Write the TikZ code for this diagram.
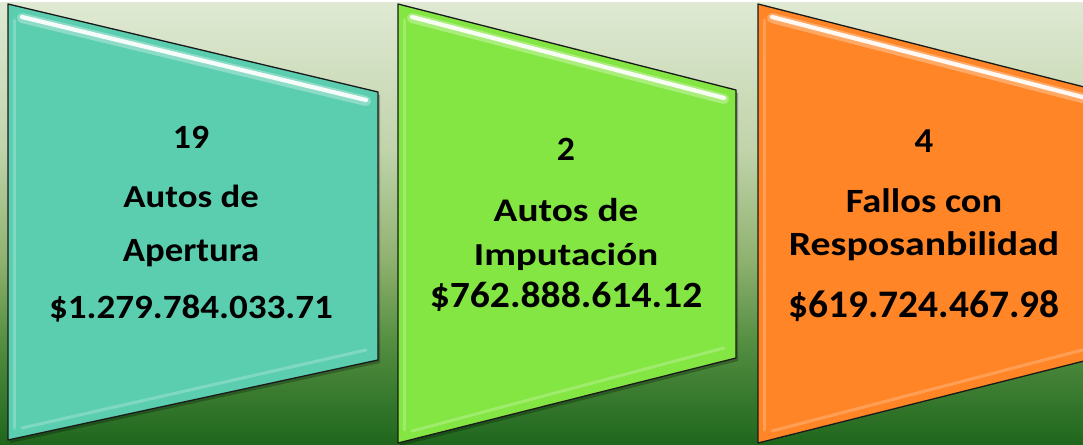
\documentclass[tikz,border=0pt]{standalone}
\usepackage{fontspec}
\setmainfont{Carlito}
\usetikzlibrary{calc}
\definecolor{bgA}{HTML}{DFE9D3}
\definecolor{bgB}{HTML}{C0D3AA}
\definecolor{bgC}{HTML}{8FB16F}
\definecolor{bgD}{HTML}{558F42}
\definecolor{bgE}{HTML}{1F671D}
\definecolor{teal}{HTML}{5CCEB0}
\definecolor{lime}{HTML}{84E642}
\definecolor{orng}{HTML}{FF8526}
\definecolor{edge}{HTML}{1A1A1A}
\newcommand{\txtline}[3]{\scalebox{#2}[1]{\fontsize{#1}{#1}\selectfont\bfseries #3}}
\tikzset{
  panel/.style={draw=edge, line width=1.3pt, line join=round},
  gloss/.style={white, line width=4.2pt, line cap=round, opacity=0.92},
  glow/.style={white, line width=10pt, line cap=round, opacity=0.3},
  lowgloss/.style={white, line width=3pt, line cap=round, opacity=0.22},
  lbl/.style={anchor=base, inner sep=0pt, text=black}
}
\begin{document}
\begin{tikzpicture}[x=1pt,y=-1pt]
\useasboundingbox (0,0) rectangle (1083,444);
\clip (0,0) rectangle (1083,444);
% background
\fill[white] (0,0) rectangle (1083,444);
\shade[top color=bgA, bottom color=bgB] (0,3) rectangle (1083,150.5);
\shade[top color=bgB, bottom color=bgC] (0,150) rectangle (1083,260.5);
\shade[top color=bgC, bottom color=bgD] (0,260) rectangle (1083,340.5);
\shade[top color=bgD, bottom color=bgE] (0,340) rectangle (1083,444);
% panel 1
\coordinate (p1a) at (8,4);
\coordinate (p1b) at (378,92);
\coordinate (p1c) at (378,360);
\coordinate (p1d) at (8,440);
\fill[black, opacity=0.25] ($(p1a)+(2,3)$) -- ($(p1b)+(2,3)$) -- ($(p1c)+(2,3)$) -- ($(p1d)+(2,3)$) -- cycle;
\fill[teal] (p1a) -- (p1b) -- (p1c) -- (p1d) -- cycle;
\draw[glow] (22,18) -- (366,101);
\draw[gloss] (22,17) -- (366,100);
\draw[lowgloss] (22,428) -- (366,350);
\draw[lowgloss] (14,20) -- (14,428);
\draw[panel] (p1a) -- (p1b) -- (p1c) -- (p1d) -- cycle;
% panel 2
\coordinate (p2a) at (398,4);
\coordinate (p2b) at (736,90);
\coordinate (p2c) at (736,358);
\coordinate (p2d) at (398,443);
\fill[black, opacity=0.25] ($(p2a)+(2,3)$) -- ($(p2b)+(2,3)$) -- ($(p2c)+(2,3)$) -- ($(p2d)+(2,3)$) -- cycle;
\fill[lime] (p2a) -- (p2b) -- (p2c) -- (p2d) -- cycle;
\draw[glow] (412,18) -- (724,99);
\draw[gloss] (412,17) -- (724,98);
\draw[lowgloss] (412,431) -- (724,348);
\draw[lowgloss] (404,20) -- (404,430);
\draw[panel] (p2a) -- (p2b) -- (p2c) -- (p2d) -- cycle;
% panel 3
\coordinate (p3a) at (758,4);
\coordinate (p3b) at (1096,90);
\coordinate (p3c) at (1096,358);
\coordinate (p3d) at (758,443);
\fill[orng] (p3a) -- (p3b) -- (p3c) -- (p3d) -- cycle;
\draw[glow] (772,18) -- (1090,100);
\draw[gloss] (772,17) -- (1090,99);
\draw[lowgloss] (772,431) -- (1090,348);
\draw[lowgloss] (764,20) -- (764,430);
\draw[panel] (p3a) -- (p3b) -- (p3c) -- (p3d) -- cycle;
% texts panel 1
\node[lbl] (t1n) at (191,148) {\txtline{34}{1.05}{19}};
\node[lbl] (t1a) at (191,207) {\txtline{32}{1.15}{Autos de}};
\node[lbl] (t1b) at (191,261) {\txtline{34}{1.08}{Apertura}};
\node[lbl] (t1v) at (191,318) {\txtline{34}{1.09}{\$1.279.784.033.71}};
% texts panel 2
\node[lbl] (t2n) at (566,160) {\txtline{34}{1.05}{2}};
\node[lbl] (t2a) at (566,221.5) {\txtline{33}{1.19}{Autos de}};
\node[lbl] (t2b) at (566,265) {\txtline{32}{1.22}{Imputación}};
\node[lbl] (t2v) at (566,307.5) {\txtline{37}{1.07}{\$762.888.614.12}};
% texts panel 3
\node[lbl] (t3n) at (924,152) {\txtline{35}{1.05}{4}};
\node[lbl] (t3a) at (924,212) {\txtline{34}{1.13}{Fallos con}};
\node[lbl] (t3b) at (924,255) {\txtline{34}{1.17}{Resposanbilidad}};
\node[lbl] (t3v) at (924,317.5) {\txtline{39}{1.01}{\$619.724.467.98}};
\end{tikzpicture}
\end{document}
